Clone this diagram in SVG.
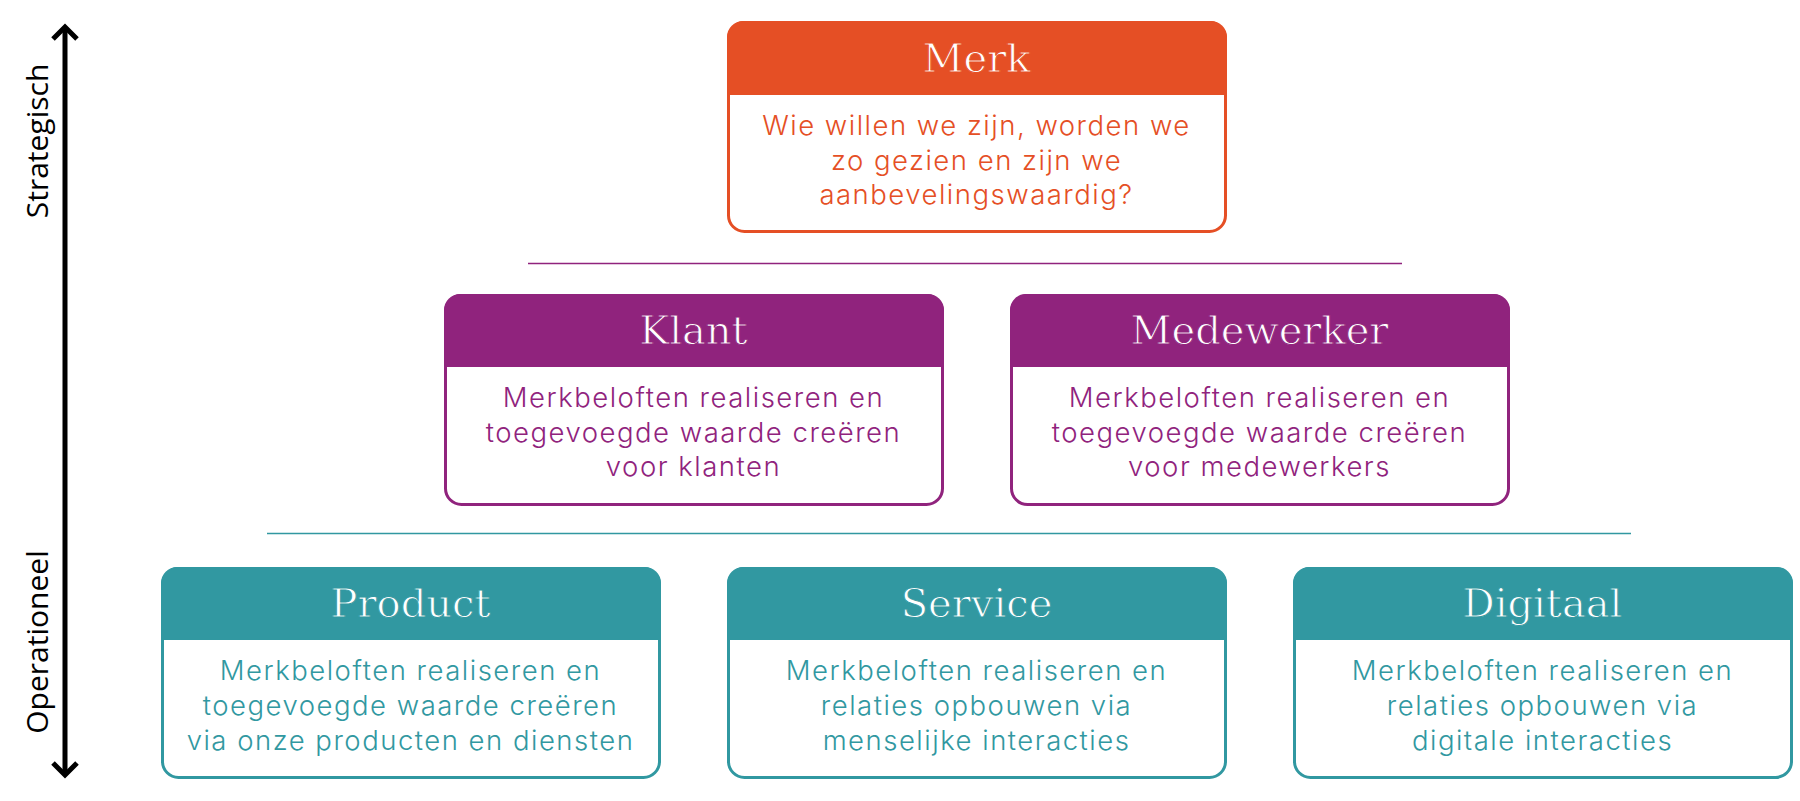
<svg xmlns="http://www.w3.org/2000/svg" width="1800" height="801" viewBox="0 0 1800 801">
<defs>
<style>
.title{font-family:"DejaVu Serif","Liberation Serif",serif;font-size:40px;fill:#fff;text-anchor:middle;stroke-width:0.9;}
.body{font-family:Inter,"Noto Sans",sans-serif;font-size:27.5px;font-weight:300;text-anchor:middle;letter-spacing:1.5px;}
.side{font-family:"Open Sans","Noto Sans",sans-serif;font-size:30px;fill:#000;text-anchor:middle;}
.o .hd{fill:#E54F25;} .o .bx{stroke:#E54F25;} .o .body{fill:#E54F25;} .o .title{stroke:#E54F25;}
.p .hd{fill:#90237D;} .p .bx{stroke:#90237D;} .p .body{fill:#90237D;} .p .title{stroke:#90237D;}
.t .hd{fill:#3198A1;} .t .bx{stroke:#3198A1;} .t .body{fill:#3198A1;} .t .title{stroke:#3198A1;}
.bx{fill:#fff;stroke-width:3;}
</style>
</defs>
<rect width="1800" height="801" fill="#fff"/>

<g id="axis">
<line x1="65" y1="27" x2="65" y2="775" stroke="#000" stroke-width="5"/>
<polyline points="53,39 65,27 77,39" fill="none" stroke="#000" stroke-width="5"/>
<polyline points="53,763 65,775 77,763" fill="none" stroke="#000" stroke-width="5"/>
<text class="side" transform="translate(48,141) rotate(-90)">Strategisch</text>
<text class="side" transform="translate(48,642) rotate(-90)">Operationeel</text>
</g>

<g id="connectors">
<line x1="528" y1="263.5" x2="1402" y2="263.5" stroke="#90237D" stroke-width="1.3"/>
<line x1="267" y1="533.5" x2="1631" y2="533.5" stroke="#3198A1" stroke-width="1.3"/>
</g>

<g id="merk" class="o">
<rect class="bx" x="728.5" y="22.5" width="497" height="209" rx="16"/>
<path class="hd" d="M727,95 V37 a16,16 0 0 1 16,-16 H1211 a16,16 0 0 1 16,16 V95 Z"/>
<text class="title" x="976.5" y="72">Merk</text>
<text class="body" x="976.5" y="135">Wie willen we zijn, worden we</text>
<text class="body" x="976.5" y="170">zo gezien en zijn we</text>
<text class="body" x="976.5" y="204">aanbevelingswaardig?</text>
</g>

<g id="klant" class="p">
<rect class="bx" x="445.5" y="295.5" width="497" height="209" rx="16"/>
<path class="hd" d="M444,367 V310 a16,16 0 0 1 16,-16 H928 a16,16 0 0 1 16,16 V367 Z"/>
<text class="title" x="693.5" y="344">Klant</text>
<text class="body" x="693.5" y="407">Merkbeloften realiseren en</text>
<text class="body" x="693.5" y="442">toegevoegde waarde creëren</text>
<text class="body" x="693.5" y="476">voor klanten</text>
</g>

<g id="medewerker" class="p">
<rect class="bx" x="1011.5" y="295.5" width="497" height="209" rx="16"/>
<path class="hd" d="M1010,367 V310 a16,16 0 0 1 16,-16 H1494 a16,16 0 0 1 16,16 V367 Z"/>
<text class="title" x="1259.5" y="344">Medewerker</text>
<text class="body" x="1259.5" y="407">Merkbeloften realiseren en</text>
<text class="body" x="1259.5" y="442">toegevoegde waarde creëren</text>
<text class="body" x="1259.5" y="476">voor medewerkers</text>
</g>

<g id="product" class="t">
<rect class="bx" x="162.5" y="568.5" width="497" height="209" rx="16"/>
<path class="hd" d="M161,640 V583 a16,16 0 0 1 16,-16 H645 a16,16 0 0 1 16,16 V640 Z"/>
<text class="title" x="410.5" y="617">Product</text>
<text class="body" x="410.5" y="680">Merkbeloften realiseren en</text>
<text class="body" x="410.5" y="715">toegevoegde waarde creëren</text>
<text class="body" x="410.5" y="750">via onze producten en diensten</text>
</g>

<g id="service" class="t">
<rect class="bx" x="728.5" y="568.5" width="497" height="209" rx="16"/>
<path class="hd" d="M727,640 V583 a16,16 0 0 1 16,-16 H1211 a16,16 0 0 1 16,16 V640 Z"/>
<text class="title" x="976.5" y="617">Service</text>
<text class="body" x="976.5" y="680">Merkbeloften realiseren en</text>
<text class="body" x="976.5" y="715">relaties opbouwen via</text>
<text class="body" x="976.5" y="750">menselijke interacties</text>
</g>

<g id="digitaal" class="t">
<rect class="bx" x="1294.5" y="568.5" width="497" height="209" rx="16"/>
<path class="hd" d="M1293,640 V583 a16,16 0 0 1 16,-16 H1777 a16,16 0 0 1 16,16 V640 Z"/>
<text class="title" x="1542.5" y="617">Digitaal</text>
<text class="body" x="1542.5" y="680">Merkbeloften realiseren en</text>
<text class="body" x="1542.5" y="715">relaties opbouwen via</text>
<text class="body" x="1542.5" y="750">digitale interacties</text>
</g>
</svg>
